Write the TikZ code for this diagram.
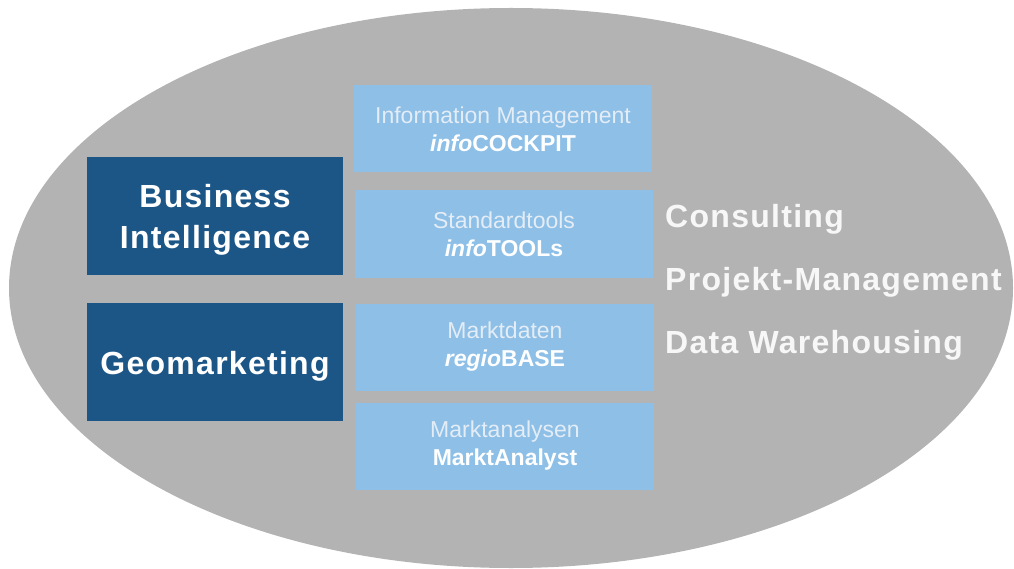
\documentclass[tikz,border=0pt]{standalone}
\usepackage{fontspec}
\setmainfont{Liberation Sans}
\definecolor{ellgray}{HTML}{B3B3B3}
\definecolor{darkblue}{HTML}{1C5687}
\definecolor{lightblue}{HTML}{8DBFE7}
\definecolor{paletext}{HTML}{E4EDF6}
\definecolor{whitish}{HTML}{F7F7F7}
\begin{document}
\begin{tikzpicture}[x=1pt,y=-1pt,
  darkbox/.style={fill=darkblue, minimum width=256pt, minimum height=118pt, inner sep=0pt},
  darktext/.style={text=white, font=\bfseries\fontsize{32}{41}\selectfont\addfontfeature{LetterSpace=4},
    align=center, inner sep=0pt},
  lightbox/.style={fill=lightblue, text=paletext, font=\fontsize{23}{28}\selectfont,
    minimum width=298pt, minimum height=87pt, align=center, inner sep=0pt},
  sidetext/.style={anchor=west, text=whitish, font=\bfseries\fontsize{32}{38}\selectfont\addfontfeature{LetterSpace=4}, inner sep=0pt}]
\useasboundingbox (0,0) rectangle (1014,569);
\fill[ellgray] (511,288) ellipse [x radius=502pt, y radius=280pt];
\node[darkbox] (bi) at (215,216) {};
\node[darktext] (bitext) at ([yshift=-4pt]bi.center) {Business\\Intelligence};
\node[darkbox] (geo) at (215,362) {};
\node[darktext] (geotext) at ([yshift=-4pt]geo.center) {Geomarketing};
\node[lightbox] (cockpit) at (503,129) {Information Management\\\textcolor{white}{\bfseries\itshape info\upshape COCKPIT}};
\node[lightbox] (tools) at (504,234) {Standardtools\\\textcolor{white}{\bfseries\itshape info\upshape TOOLs}};
\node[lightbox] (regio) at (505,347) {Marktdaten\\\textcolor{white}{\bfseries\itshape regio\upshape BASE}};
\node[lightbox] (analyst) at (505,446) {Marktanalysen\\\textcolor{white}{\bfseries MarktAnalyst}};
\node[sidetext] (consult) at (665,219) {Consulting};
\node[sidetext] (pm) at (665,282) {Projekt-Management};
\node[sidetext] (dwh) at (665,345) {Data Warehousing};
\end{tikzpicture}
\end{document}
